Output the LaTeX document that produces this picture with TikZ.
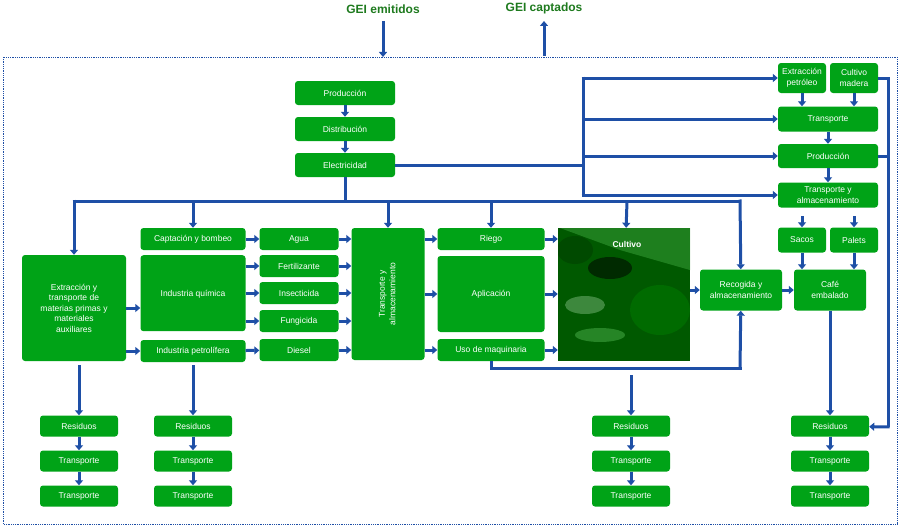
\documentclass[tikz,border=0pt]{standalone}
\usepackage{fontspec}
\setmainfont{Liberation Sans}
\usetikzlibrary{arrows.meta}
\definecolor{gb}{HTML}{00A317}
\definecolor{bl}{HTML}{1E4FA6}
\definecolor{tg}{HTML}{1E7A1E}
\newcommand\bx[6]{\node[box,minimum width=#4pt,minimum height=#5pt] (#1) at (#2,#3) {#6};}
\begin{document}
\begin{tikzpicture}[x=1pt,y=-1pt,
 box/.style={fill=gb,rounded corners=3pt,text=white,font=\fontsize{8.5}{10.5}\selectfont,align=center,inner sep=1pt},
 ar/.style={draw=bl,line width=3pt,-{Triangle[length=5pt,width=8pt]}},
 ln/.style={draw=bl,line width=3pt}]
\useasboundingbox (0,0) rectangle (901,527);
\draw[bl,densely dotted,line width=0.8pt] (3,57) rectangle (897,524);
\node[font=\bfseries\fontsize{12}{13}\selectfont,text=tg] (ge) at (383,9) {GEI emitidos};
\node[font=\bfseries\fontsize{12}{13}\selectfont,text=tg] (gc) at (544,8) {GEI captados};
\coordinate (gea) at (383,57); \coordinate (gca) at (544,56);
\draw[ar] (383,21) -- (gea);
\draw[ar] (gca) -- (544,21);
% top chain
\bx{p}{345}{93}{100}{24}{Producción}
\bx{d}{345}{129}{100}{24}{Distribución}
\bx{e}{345}{165}{100}{24}{Electricidad}
\draw[ar] (p) -- (d); \draw[ar] (d) -- (e);
% right column
\bx{ep}{802}{78}{48}{30}{Extracción\\petróleo}
\bx{cm}{854}{78}{48}{30}{Cultivo\\madera}
\bx{t1}{828}{119}{100}{25}{Transporte}
\bx{p2}{828}{156}{100}{24}{Producción}
\bx{ta}{828}{195}{100}{25}{Transporte y\\almacenamiento}
\bx{sacos}{802}{240}{48}{25}{Sacos}
\bx{palets}{854}{240}{48}{25}{Palets}
\bx{ce}{830}{290}{72}{41}{Café\\embalado}
\bx{rg}{741}{290}{82}{41}{Recogida y\\almacenamiento}
% left
\bx{ex}{74}{308}{104}{106}{Extracción y\\transporte de\\materias primas y\\materiales\\auxiliares}
\bx{cb}{193}{239}{105}{22}{Captación y bombeo}
\node[box,minimum width=105pt,minimum height=76pt,anchor=north,align=center] (iq) at (193,255) {\\[-2pt]Industria química};
\bx{ip}{193}{351}{105}{22}{Industria petrolífera}
\bx{ag}{299}{239}{79}{22}{Agua}
\bx{fe}{299}{266}{79}{22}{Fertilizante}
\bx{in}{299}{293}{79}{22}{Insecticida}
\bx{fu}{299}{321}{79}{22}{Fungicida}
\bx{di}{299}{350}{79}{22}{Diesel}
\node[box,minimum width=73pt,minimum height=132pt] (tv) at (388,294) {\rotatebox{90}{\begin{tabular}{c}Transporte y\\almacenamiento\end{tabular}}};
\bx{ri}{491}{239}{107}{22}{Riego}
\bx{ap}{491}{294}{107}{76}{Aplicación}
\bx{um}{491}{350}{107}{22}{Uso de maquinaria}
% image
\fill[green!35!black] (558,228) rectangle (690,361);
\begin{scope}
\clip (558,228) rectangle (690,361);
\fill[green!50!black!80!white,opacity=0.6] (560,228) -- (690,228) -- (690,270) -- (620,250) -- cycle;
\fill[green!12!black,opacity=0.8] (610,268) ellipse (22pt and 11pt);
\fill[green!30!gray!80!white,opacity=0.5] (585,305) ellipse (20pt and 9pt);
\fill[green!40!gray,opacity=0.5] (600,335) ellipse (25pt and 7pt);
\fill[green!45!black,opacity=0.7] (660,310) ellipse (30pt and 25pt);
\fill[green!25!black,opacity=0.6] (575,250) ellipse (18pt and 14pt);
\end{scope}
\node[minimum width=132pt,minimum height=133pt,inner sep=0pt] (cu) at (624,294.5) {};
\node[font=\bfseries\fontsize{8.5}{9}\selectfont,text=white] (cul) at (627,244) {Cultivo};
% bottom columns
\foreach \n/\x in {a/79,b/193,c/631,f/830}{
 \bx{r\n}{\x}{426}{78}{21}{Residuos}
 \bx{s\n}{\x}{461}{78}{21}{Transporte}
 \bx{u\n}{\x}{496}{78}{21}{Transporte}
 \draw[ar] (r\n) -- (s\n); \draw[ar] (s\n) -- (u\n);
}
\coordinate (xa) at (79,365); \coordinate (xb) at (193,365); \coordinate (xc) at (631,375);
\draw[ar] (xa) -- (ra);
\draw[ar] (xb) -- (rb);
\draw[ar] (xc) -- (rc);
\draw[ar] (ce) -- (rf);
% electricity distribution
\coordinate (j1) at (345,201); \coordinate (j2) at (740,201);
\draw[ln] (e) -- (j1);
\draw[ln] (72.5,201) -- (j2);
\draw[ar] (74,199.5) -- (ex);
\draw[ar] (193,201) -- (cb);
\draw[ar] (388,201) -- (tv);
\draw[ar] (491,201) -- (ri);
\draw[ar] (627,201) -- (cu);
\draw[ar] (740,199.5) -- (rg);
\coordinate (j3) at (583,165);
\draw[ln] (e) -- (j3);
\draw[ln] (583,76.5) -- (583,196.5);
\draw[ar] (581.5,78) -- (ep);
\draw[ar] (583,119) -- (t1);
\draw[ar] (583,156) -- (p2);
\draw[ar] (581.5,195) -- (ta);
% right internal
\draw[ar] (ep) -- (ep|-t1.north);
\draw[ar] (cm) -- (cm|-t1.north);
\draw[ar] (t1) -- (p2); \draw[ar] (p2) -- (ta);
\draw[ar] (802,216) -- (sacos); \draw[ar] (854,216) -- (palets);
\draw[ar] (sacos) -- (sacos|-ce.north); \draw[ar] (palets) -- (palets|-ce.north);
\draw[ln] (cm.east) -- (888,78) -- (888,427);
\draw[ln] (p2.east) -- (888,156);
\draw[ar] (889.5,427) -- (rf);
% left internal
\coordinate (q1) at (126,308); \coordinate (q2) at (126,351);
\draw[ar] (q1) -- (iq.west|-q1);
\draw[ar] (q2) -- (ip);
\draw[ar] (cb) -- (ag);
\draw[ar] (iq.east|-fe) -- (fe);
\draw[ar] (iq.east|-in) -- (in);
\draw[ar] (iq.east|-fu) -- (fu);
\draw[ar] (ip) -- (di);
\foreach \s in {ag,fe,in,fu,di}{\draw[ar] (\s) -- (\s-|tv.west);}
\draw[ar] (tv.east|-ri) -- (ri);
\draw[ar] (tv.east|-ap) -- (ap);
\draw[ar] (tv.east|-um) -- (um);
\draw[ar] (ri) -- (ri-|cu.west);
\draw[ar] (ap) -- (ap-|cu.west);
\draw[ar] (um) -- (um-|cu.west);
\draw[ar] (cu.east|-rg) -- (rg);
\draw[ar] (rg) -- (ce);
\draw[ln] (um.south) -- (491,368) -- (741.5,368);
\draw[ar] (740,369.5) -- (rg);
\end{tikzpicture}
\end{document}
